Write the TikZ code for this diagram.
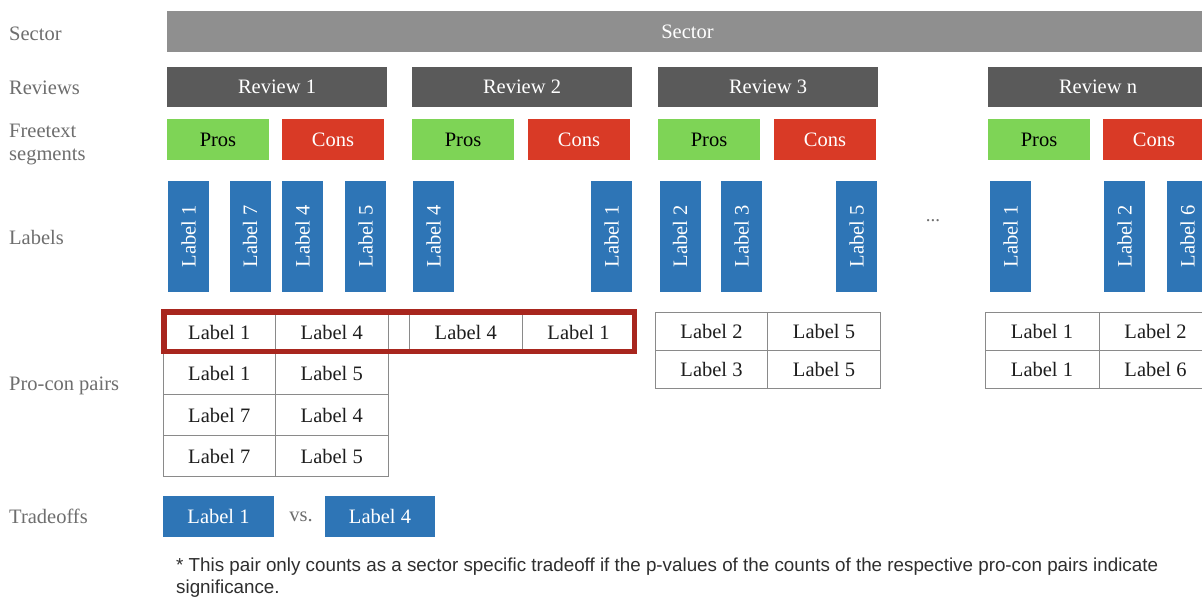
\documentclass[tikz,border=0pt]{standalone}
\usepackage{fontspec}
\setmainfont{Liberation Serif}
\newfontfamily\footfont{Liberation Sans}
\definecolor{secgray}{HTML}{8F8F8F}
\definecolor{revgray}{HTML}{5A5A5A}
\definecolor{progreen}{HTML}{7ED456}
\definecolor{conred}{HTML}{D93A26}
\definecolor{lblue}{HTML}{2E75B6}
\definecolor{boxred}{HTML}{A8261E}
\definecolor{sidegray}{HTML}{6E6E6E}
\definecolor{linegray}{HTML}{8A8A8A}
\definecolor{textdark}{HTML}{1E1E1E}
\definecolor{notegray}{HTML}{2E2E2E}
\tikzset{
  basefont/.style={font=\fontsize{20.5}{23}\selectfont},
  side/.style={basefont, text=sidegray, anchor=west, inner sep=0, align=left},
  bar/.style={basefont, inner sep=0, minimum height=41, text=white},
  sectorbar/.style={bar, fill=secgray, minimum width=1041},
  reviewbar/.style={bar, fill=revgray, minimum width=220, minimum height=40},
  prosbox/.style={bar, fill=progreen, minimum width=102, text=black},
  consbox/.style={bar, fill=conred, minimum width=102},
  labelcol/.style={bar, fill=lblue, rotate=90, minimum width=111, minimum height=41},
  cellA/.style={basefont, draw=linegray, line width=0.8, inner sep=0, text=textdark, minimum width=112.5, minimum height=41.25},
  cellB/.style={cellA, minimum height=38},
  tradebox/.style={bar, fill=lblue, minimum width=111},
  notefont/.style={font=\footfont\fontsize{18.8}{22}\selectfont, text=notegray, anchor=base west, inner sep=0},
}
\begin{document}
\begin{tikzpicture}[x=1pt,y=-1pt]
\useasboundingbox (0,0) rectangle (1202,597);
\clip (0,0) rectangle (1202,597);
\fill[white] (0,0) rectangle (1202,597);

% side labels
\node[side] (sSector) at (9,34) {Sector};
\node[side] (sReviews) at (9,88) {Reviews};
\node[side] (sFree) at (9,144) {Freetext\\segments};
\node[side] (sLabels) at (9,237) {Labels};
\node[side] (sPairs) at (9,386) {Pro-con pairs};
\node[side] (sTrade) at (9,516) {Tradeoffs};

% sector
\node[sectorbar] (sector) at (687.5,31.5) {Sector};

% reviews
\node[reviewbar] (rev1) at (277,87) {Review 1};
\node[reviewbar] (rev2) at (522,87) {Review 2};
\node[reviewbar] (rev3) at (768,87) {Review 3};
\node[reviewbar] (revn) at (1098,87) {Review n};

% pros / cons
\node[prosbox] (p1) at (218,139.5) {Pros};
\node[consbox] (c1) at (333,139.5) {Cons};
\node[prosbox] (p2) at (463,139.5) {Pros};
\node[consbox] (c2) at (579,139.5) {Cons};
\node[prosbox] (p3) at (709,139.5) {Pros};
\node[consbox] (c3) at (825,139.5) {Cons};
\node[prosbox] (pn) at (1039,139.5) {Pros};
\node[consbox] (cn) at (1154,139.5) {Cons};

% label columns
\node[labelcol] (l11) at (188.5,236.5) {Label 1};
\node[labelcol] (l12) at (250,236.5) {Label 7};
\node[labelcol] (l13) at (302.5,236.5) {Label 4};
\node[labelcol] (l14) at (365.5,236.5) {Label 5};
\node[labelcol] (l21) at (433.5,236.5) {Label 4};
\node[labelcol] (l22) at (611.5,236.5) {Label 1};
\node[labelcol] (l31) at (680,236.5) {Label 2};
\node[labelcol] (l32) at (741.5,236.5) {Label 3};
\node[labelcol] (l33) at (856.5,236.5) {Label 5};
\node[labelcol] (ln1) at (1010.5,236.5) {Label 1};
\node[labelcol] (ln2) at (1124.5,236.5) {Label 2};
\node[labelcol] (ln3) at (1187.5,236.5) {Label 6};
\node[text=sidegray, font=\fontsize{19}{21}\selectfont, inner sep=0, anchor=base] (dots) at (933,221) {...};

% pro-con pairs: review 1
\node[cellA] (t1a) at (219.25,332.5) {Label 1};
\node[cellA] (t1b) at (331.75,332.5) {Label 4};
\node[cellA] (t1c) at (219.25,373.75) {Label 1};
\node[cellA] (t1d) at (331.75,373.75) {Label 5};
\node[cellA] (t1e) at (219.25,415) {Label 7};
\node[cellA] (t1f) at (331.75,415) {Label 4};
\node[cellA] (t1g) at (219.25,456.25) {Label 7};
\node[cellA] (t1h) at (331.75,456.25) {Label 5};
% review 2
\node[cellA, minimum width=113.5] (t2a) at (465.75,332.5) {Label 4};
\node[cellA, minimum width=112] (t2b) at (578.5,332.5) {Label 1};
% review 3
\node[cellB] (t3a) at (711.5,331) {Label 2};
\node[cellB] (t3b) at (824,331) {Label 5};
\node[cellB] (t3c) at (711.5,369) {Label 3};
\node[cellB] (t3d) at (824,369) {Label 5};
% review n
\node[cellB, minimum width=114] (tna) at (1042,331) {Label 1};
\node[cellB, minimum width=113] (tnb) at (1155.5,331) {Label 2};
\node[cellB, minimum width=114] (tnc) at (1042,369) {Label 1};
\node[cellB, minimum width=113] (tnd) at (1155.5,369) {Label 6};

% highlight
\draw[boxred, line width=5.5] (163.75,312) rectangle (634.25,351.5);

% tradeoffs
\node[tradebox] (tr1) at (218.5,516.5) {Label 1};
\node[basefont, text=sidegray, inner sep=0] (vs) at (301,517) {vs.};
\node[tradebox, minimum width=110] (tr2) at (380,516.5) {Label 4};

% footnote
\node[notefont] (note1) at (176,571)
  {* This pair only counts as a sector specific tradeoff if the p-values of the counts of the respective pro-con pairs indicate};
\node[notefont] (note2) at (176,593) {significance.};
\end{tikzpicture}
\end{document}
